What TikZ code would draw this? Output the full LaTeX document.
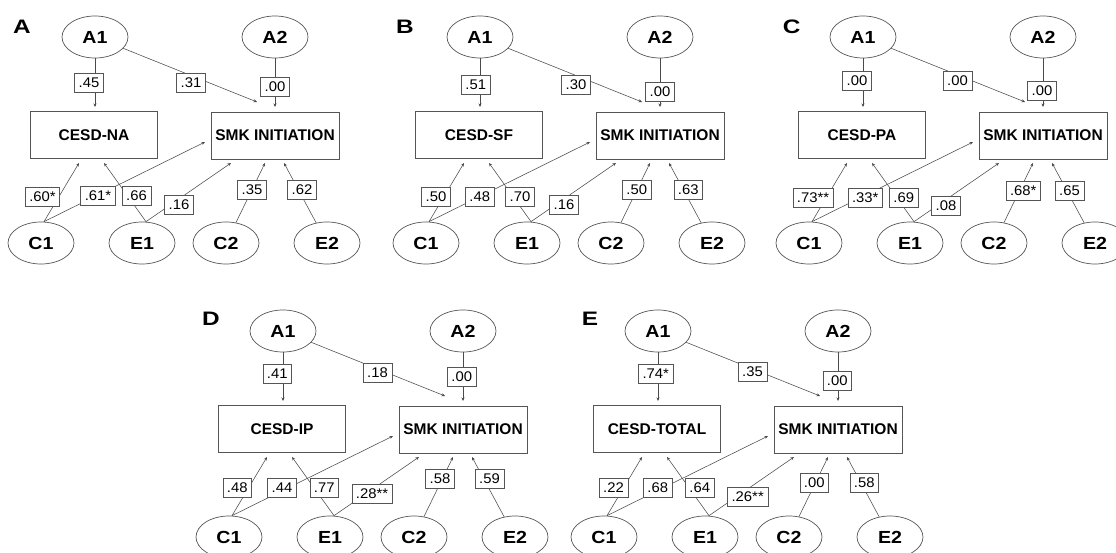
\documentclass[tikz,border=0pt]{standalone}
\usepackage{fontspec}
\setmainfont{Liberation Sans}
\newfontfamily\latfont[FakeStretch=1.12]{Liberation Sans}
\newfontfamily\letfont[FakeStretch=1.25]{Liberation Sans}
\newfontfamily\numfont[FakeStretch=1.06]{Liberation Sans}
\usetikzlibrary{shapes.geometric,arrows.meta}
\definecolor{ln}{HTML}{4A4A4A}
\definecolor{bx}{HTML}{555555}
\tikzset{
 lat/.style={ellipse, draw=bx, line width=0.7pt, minimum width=66pt, minimum height=42pt, inner sep=0pt, font=\latfont\fontsize{17.5}{18}\selectfont\bfseries},
 obs/.style={rectangle, draw=bx, line width=0.7pt, minimum width=127pt, minimum height=47pt, inner sep=0pt, font=\fontsize{15.5}{16}\selectfont\bfseries},
 lbl/.style={rectangle, draw=bx, fill=white, line width=0.6pt, inner xsep=4pt, inner ysep=0pt, minimum height=19pt, font=\numfont\fontsize{14}{14}\selectfont},
 pth/.style={draw=ln, line width=0.55pt, -{Stealth[length=3.5pt,width=3pt]}},
 letterlab/.style={font=\letfont\fontsize{19.5}{20}\selectfont\bfseries, inner sep=0pt},
}
% #1 prefix, #2 letter, #3 box text, #4 letter position
\newcommand\panelbase[4]{%
 \node[letterlab] (#1L) at #4 {#2};
 \node[lat] (#1A1) at (95,37) {A1};
 \node[lat] (#1A2) at (275,37) {A2};
 \node[obs] (#1D) at (94,135) {#3};
 \node[obs, minimum width=128pt] (#1S) at (275,135.5) {SMK INITIATION};
 \node[lat] (#1C1) at (41,243) {C1};
 \node[lat] (#1E1) at (142,243) {E1};
 \node[lat] (#1C2) at (226,243) {C2};
 \node[lat] (#1E2) at (327,243) {E2};
 \coordinate (#1t1) at (95,107);
 \coordinate (#1t2) at (257,102);
 \coordinate (#1t3) at (275,107);
 \coordinate (#1t4) at (79,163);
 \coordinate (#1t5) at (205,142);
 \coordinate (#1t6) at (104,163);
 \coordinate (#1t7) at (231,163);
 \coordinate (#1t8) at (265,163);
 \coordinate (#1t9) at (284,163);
 \draw[pth] (#1A1) -- (#1t1);
 \draw[pth] (#1A1) -- (#1t2);
 \draw[pth] (#1A2) -- (#1t3);
 \draw[pth] ([xshift=3pt]#1C1.north) -- (#1t4);
 \draw[pth] ([xshift=3pt]#1C1.north) -- (#1t5);
 \draw[pth] ([xshift=4pt]#1E1.north) -- (#1t6);
 \draw[pth] ([xshift=4pt]#1E1.north) -- (#1t7);
 \draw[pth] (#1C2) -- (#1t8);
 \draw[pth] (#1E2) -- (#1t9);
}
\begin{document}
\begin{tikzpicture}[x=1pt,y=-1pt]
\useasboundingbox (0,0) rectangle (1116,553);
\clip (0,0) rectangle (1116,553);
% ---------- A ----------
\begin{scope}[shift={(0,0)}]
 \panelbase{a}{A}{CESD-NA}{(22,27)}
 \node[lbl] (al1) at (89,82.5) {.45};
 \node[lbl] (al2) at (191,83) {.31};
 \node[lbl] (al3) at (275,86.5) {.00};
 \node[lbl] (al4) at (42.5,197) {.60*};
 \node[lbl] (al5) at (98,196) {.61*};
 \node[lbl] (al6) at (136.5,196) {.66};
 \node[lbl] (al7) at (179,204.5) {.16};
 \node[lbl] (al8) at (252,190) {.35};
 \node[lbl] (al9) at (302,190) {.62};
\end{scope}
% ---------- B ----------
\begin{scope}[shift={(385,0)}]
 \panelbase{b}{B}{CESD-SF}{(20,27)}
 \node[lbl] (bl1) at (90.7,84.5) {.51};
 \node[lbl] (bl2) at (191,85) {.30};
 \node[lbl] (bl3) at (275,91.5) {.00};
 \node[lbl] (bl4) at (51,197) {.50};
 \node[lbl] (bl5) at (94.7,197) {.48};
 \node[lbl] (bl6) at (135,197) {.70};
 \node[lbl] (bl7) at (179,205) {.16};
 \node[lbl] (bl8) at (251.7,190) {.50};
 \node[lbl] (bl9) at (303.3,190) {.63};
\end{scope}
% ---------- C ----------
\begin{scope}[shift={(768,0)}]
 \panelbase{c}{C}{CESD-PA}{(23.7,27)}
 \node[lbl] (cl1) at (89,80.5) {.00};
 \node[lbl] (cl2) at (189.5,80.5) {.00};
 \node[lbl] (cl3) at (274,90.5) {.00};
 \node[lbl] (cl4) at (45,197.5) {.73**};
 \node[lbl] (cl5) at (97.3,197.5) {.33*};
 \node[lbl] (cl6) at (135.7,197.5) {.69};
 \node[lbl] (cl7) at (178,205.5) {.08};
 \node[lbl] (cl8) at (255.3,191) {.68*};
 \node[lbl] (cl9) at (301.5,191) {.65};
\end{scope}
% ---------- D ----------
\begin{scope}[shift={(188,294)}]
 \panelbase{d}{D}{CESD-IP}{(23,25)}
 \node[lbl] (dl1) at (89.2,79.3) {.41};
 \node[lbl] (dl2) at (189.5,78.5) {.18};
 \node[lbl] (dl3) at (273.7,82.7) {.00};
 \node[lbl] (dl4) at (49.2,193.5) {.48};
 \node[lbl] (dl5) at (94,193.5) {.44};
 \node[lbl] (dl6) at (136.2,193.5) {.77};
 \node[lbl] (dl7) at (184,200) {.28**};
 \node[lbl] (dl8) at (252,184.3) {.58};
 \node[lbl] (dl9) at (301.5,184.3) {.59};
\end{scope}
% ---------- E ----------
\begin{scope}[shift={(563,294)}]
 \panelbase{e}{E}{CESD-TOTAL}{(27,25)}
 \node[lbl] (el1) at (92.8,79.3) {.74*};
 \node[lbl] (el2) at (189.5,77.7) {.35};
 \node[lbl] (el3) at (274.2,86.3) {.00};
 \node[lbl] (el4) at (50.5,193.5) {.22};
 \node[lbl] (el5) at (94.7,193.5) {.68};
 \node[lbl] (el6) at (136.7,193.5) {.64};
 \node[lbl] (el7) at (184.7,202.7) {.26**};
 \node[lbl] (el8) at (251.3,188.5) {.00};
 \node[lbl] (el9) at (301.2,188.5) {.58};
\end{scope}
\end{tikzpicture}
\end{document}
